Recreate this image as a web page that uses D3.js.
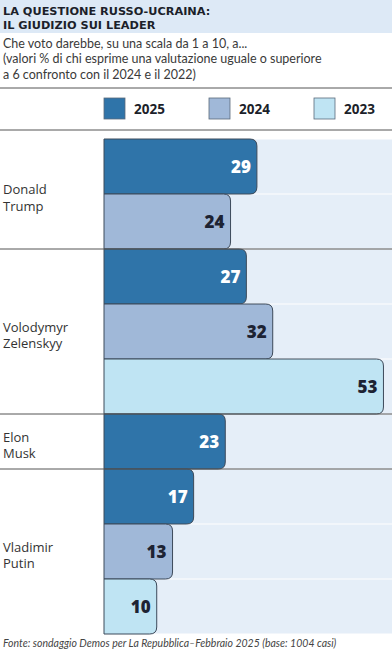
<!DOCTYPE html>
<html>
<head>
<meta charset="utf-8">
<script src="https://cdn.jsdelivr.net/npm/d3@7"></script>
<style>
  body { margin: 0; background: #fff; }
  svg { display: block; }
</style>
</head>
<body>
<div id="chart"></div>
<script>
// Data
const leaders = ["Donald Trump", "Volodymyr Zelenskyy", "Elon Musk", "Vladimir Putin"];
const years = ["2025", "2024", "2023"];
const trumpValues = [29, 24];
const zelenskyyValues = [27, 32, 53];
const muskValues = [23];
const putinValues = [17, 13, 10];

const colors = { "2025": "#2f74a9", "2024": "#a0b8d8", "2023": "#bfe4f3" };

const width = 392;
const height = 651;

// flatten into one row per bar
const groups = [trumpValues, zelenskyyValues, muskValues, putinValues];
const rows = [];
groups.forEach((vals, gi) => {
  vals.forEach((v, i) => {
    rows.push({ leader: leaders[gi], group: gi, year: years[i], value: v });
  });
});

const svg = d3.select("#chart")
  .append("svg")
  .attr("width", width)
  .attr("height", height)
  .style("font-family", "Lato, 'Open Sans', sans-serif");

// Title band
svg.append("rect")
  .attr("x", 0).attr("y", 0)
  .attr("width", width).attr("height", 33)
  .attr("fill", "#dde9f6");

const titleLines = ["LA QUESTIONE RUSSO-UCRAINA:", "IL GIUDIZIO SUI LEADER"];
svg.selectAll(".title")
  .data(titleLines)
  .enter()
  .append("text")
  .attr("class", "title")
  .attr("x", 3)
  .attr("y", (d, i) => 14.5 + i * 14.5)
  .style("font-family", "'DejaVu Sans', sans-serif")
  .style("font-weight", "700")
  .style("font-size", "11.3px")
  .attr("fill", "#1c1f2a")
  .text(d => d);

// Subtitle
const subtitle = [
  "Che voto darebbe, su una scala da 1 a 10, a...",
  "(valori % di chi esprime una valutazione uguale o superiore",
  "a 6 confronto con il 2024 e il 2022)"
];
svg.selectAll(".sub")
  .data(subtitle)
  .enter()
  .append("text")
  .attr("class", "sub")
  .attr("x", 3)
  .attr("y", (d, i) => 48 + i * 15.3)
  .style("font-size", "12.5px")
  .attr("fill", "#3a3a3a")
  .text(d => d);

// Legend rules
[88, 130].forEach(y => {
  svg.append("line")
    .attr("x1", 0).attr("x2", width)
    .attr("y1", y).attr("y2", y)
    .attr("stroke", "#555")
    .attr("stroke-width", 1);
});

// Legend
const legendX = d3.scalePoint().domain(years).range([104, 314]);
const legend = svg.selectAll(".legend")
  .data(years)
  .enter()
  .append("g")
  .attr("class", "legend")
  .attr("transform", d => "translate(" + legendX(d) + ",98)");
legend.append("rect")
  .attr("width", 21).attr("height", 21)
  .attr("fill", d => colors[d])
  .attr("stroke", "#5a6a7a")
  .attr("stroke-width", 0.8);
legend.append("text")
  .attr("x", 30).attr("y", 16)
  .style("font-family", "'Open Sans', sans-serif")
  .style("font-weight", "700")
  .style("font-size", "13.5px")
  .attr("fill", "#1c1f2a")
  .text(d => d);

// Scales
const x = d3.scaleLinear().domain([0, 55]).range([104, 394]);
const y = d3.scaleBand()
  .domain(d3.range(rows.length))
  .range([139, 634])
  .padding(0);
const bh = y.bandwidth();

// Background stripes
svg.selectAll(".bg")
  .data(rows)
  .enter()
  .append("rect")
  .attr("class", "bg")
  .attr("x", x(0))
  .attr("y", (d, i) => y(i) + 0.5)
  .attr("width", width - x(0))
  .attr("height", bh - 1)
  .attr("fill", "#e5eef8");

// Bars with rounded right end
const r = 7;
function barPath(d, i) {
  const x0 = x(0), x1 = x(d.value), y0 = y(i), y1 = y(i) + bh;
  return "M" + x0 + "," + y0 +
    "H" + (x1 - r) +
    "Q" + x1 + "," + y0 + " " + x1 + "," + (y0 + r) +
    "V" + (y1 - r) +
    "Q" + x1 + "," + y1 + " " + (x1 - r) + "," + y1 +
    "H" + x0 + "Z";
}
svg.selectAll(".bar")
  .data(rows)
  .enter()
  .append("path")
  .attr("class", "bar")
  .attr("d", barPath)
  .attr("fill", d => colors[d.year])
  .attr("stroke", "#3d4a5a")
  .attr("stroke-width", 1);

// Value labels
svg.selectAll(".val")
  .data(rows)
  .enter()
  .append("text")
  .attr("class", "val")
  .attr("x", d => x(d.value) - 6)
  .attr("y", (d, i) => y(i) + bh / 2 + 6)
  .attr("text-anchor", "end")
  .style("font-family", "'Open Sans', sans-serif")
  .style("font-weight", "800")
  .style("font-size", "17px")
  .attr("fill", d => d.year === "2025" ? "#ffffff" : "#1d2333")
  .text(d => d.value);

// Group separators and leader labels
let start = 0;
groups.forEach((vals, gi) => {
  const top = y(start);
  const bottom = y(start + vals.length - 1) + bh;
  if (gi < groups.length - 1) {
    svg.append("line")
      .attr("x1", 0).attr("x2", width)
      .attr("y1", bottom).attr("y2", bottom)
      .attr("stroke", "#555")
      .attr("stroke-width", 1);
  }
  const mid = (top + bottom) / 2;
  const words = leaders[gi].split(" ");
  svg.append("text")
    .attr("x", 3)
    .attr("y", mid)
    .style("font-family", "'Open Sans', sans-serif")
    .style("font-size", "13px")
    .attr("fill", "#333")
    .selectAll("tspan")
    .data(words)
    .enter()
    .append("tspan")
    .attr("x", 3)
    .attr("dy", (d, i) => i === 0 ? 0 : 16.5)
    .text(d => d);
  start += vals.length;
});

// Source
svg.append("text")
  .attr("x", 3).attr("y", 647)
  .style("font-size", "10.5px")
  .style("font-style", "italic")
  .attr("fill", "#444")
  .text("Fonte: sondaggio Demos per La Repubblica\u2013Febbraio 2025 (base: 1004 casi)");
</script>
</body>
</html>
